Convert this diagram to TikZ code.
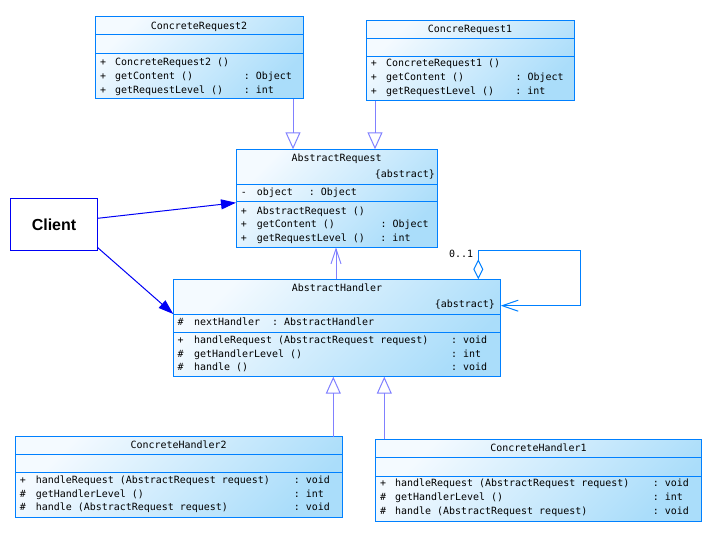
\documentclass[tikz,border=0pt]{standalone}
\usepackage{fontspec}
\setmonofont{DejaVu Sans Mono}
\newfontfamily\clientfont{Liberation Sans}
\usetikzlibrary{arrows.meta}
\definecolor{clsblue}{RGB}{0,128,255}
\definecolor{clslight}{RGB}{244,250,255}
\definecolor{clsdark}{RGB}{170,221,250}
\definecolor{genline}{RGB}{128,128,255}
\definecolor{clientblue}{RGB}{0,0,245}
\tikzset{
  cls/.style={draw=clsblue, line width=1pt, top color=clslight, bottom color=clsdark,
    shading angle=45, inner sep=0pt, outer sep=0pt, anchor=north west},
  sepline/.style={draw=clsblue, line width=1pt},
  mono/.style={font=\ttfamily\fontsize{9.97}{12}\selectfont, inner sep=0pt, anchor=base west},
  title/.style={mono, anchor=base},
  clientbox/.style={draw=clientblue, line width=1pt, fill=white, inner sep=0pt, outer sep=0pt,
    anchor=north west, font=\clientfont\bfseries\fontsize{16}{18}\selectfont},
  gen/.style={draw=genline, line width=1pt, -{Triangle[open, length=17pt, width=15pt]}},
  dep/.style={draw=genline, line width=1pt, -{Straight Barb[length=15pt, width=10pt]}},
  assoc/.style={draw=clsblue, line width=1pt,
    {Diamond[open, length=20pt, width=10pt]}-{Straight Barb[length=16pt, width=11pt]}},
  clientarrow/.style={draw=clientblue, line width=1pt, -{Triangle[length=15pt, width=10pt]}},
}
\newcommand\umlsep[2]{\draw[sepline] ([yshift=-#2pt]#1.north west) -- ([yshift=-#2pt]#1.north east);}
\newcommand\umlrow[8]{\node[mono] (#1) at (#2,#3) {\makebox[#4pt][l]{#5}\makebox[#6pt][l]{#7}#8};}
\begin{document}
\begin{tikzpicture}[x=1pt,y=-1pt]
\useasboundingbox (0,0) rectangle (717,534);
% ---------- boxes
\node[cls, minimum width=208pt, minimum height=82pt] (cr2) at (95,17) {};
\node[cls, minimum width=208pt, minimum height=80pt] (cr1) at (366,21) {};
\node[cls, minimum width=201.3pt, minimum height=98pt] (ar) at (236,149.3) {};
\node[cls, minimum width=327.4pt, minimum height=97.4pt] (ah) at (173.3,279.3) {};
\node[cls, minimum width=327.3pt, minimum height=80.6pt] (ch2) at (15,436.7) {};
\node[cls, minimum width=326.4pt, minimum height=82.4pt] (ch1) at (375.3,439.3) {};
\node[clientbox, minimum width=86.6pt, minimum height=52.7pt] (client) at (10.7,198.3) {Client};
% ---------- separators
\umlsep{cr2}{18}\umlsep{cr2}{37}
\umlsep{cr1}{17.7}\umlsep{cr1}{35.7}
\umlsep{ar}{35.7}\umlsep{ar}{52.4}
\umlsep{ah}{35.7}\umlsep{ah}{53}
\umlsep{ch2}{17.6}\umlsep{ch2}{35.6}
\umlsep{ch1}{18}\umlsep{ch1}{36.7}
% ---------- ConcreteRequest2
\node[title] (cr2t) at (199,30) {ConcreteRequest2};
\umlrow{cr2a}{100}{66}{15}{+}{128.7}{ConcreteRequest2 ()}{}
\umlrow{cr2b}{100}{79.5}{15}{+}{128.7}{getContent ()}{: Object}
\umlrow{cr2c}{100}{93.2}{15}{+}{128.7}{getRequestLevel ()}{: int}
% ---------- ConcreteRequest1
\node[title] (cr1t) at (470,32.5) {ConcreRequest1};
\umlrow{cr1a}{370.7}{67}{15.3}{+}{129.3}{ConcreteRequest1 ()}{}
\umlrow{cr1b}{370.7}{80.7}{15.3}{+}{129.3}{getContent ()}{: Object}
\umlrow{cr1c}{370.7}{94.4}{15.3}{+}{129.3}{getRequestLevel ()}{: int}
% ---------- AbstractRequest
\node[title] (art) at (336.7,162) {AbstractRequest};
\node[mono, anchor=base east] (ara) at (435,178) {\{abstract\}};
\umlrow{arf}{240.7}{196}{16}{-}{52}{object}{: Object}
\umlrow{arm1}{240.7}{214.2}{16}{+}{123.6}{AbstractRequest ()}{}
\umlrow{arm2}{240.7}{227.9}{16}{+}{123.6}{getContent ()}{: Object}
\umlrow{arm3}{240.7}{241.6}{16}{+}{123.6}{getRequestLevel ()}{: int}
% ---------- AbstractHandler
\node[title] (aht) at (337,292) {AbstractHandler};
\node[mono, anchor=base east] (aha) at (495,307.7) {\{abstract\}};
\umlrow{ahf}{177.3}{326}{16.7}{\#}{78}{nextHandler}{: AbstractHandler}
\umlrow{ahm1}{177.3}{343.5}{16.7}{+}{257}{handleRequest (AbstractRequest request)}{: void}
\umlrow{ahm2}{177.3}{357.2}{16.7}{\#}{257}{getHandlerLevel ()}{: int}
\umlrow{ahm3}{177.3}{370.9}{16.7}{\#}{257}{handle ()}{: void}
% ---------- ConcreteHandler2
\node[title] (ch2t) at (178.7,448) {ConcreteHandler2};
\umlrow{ch2a}{19.7}{483.5}{16}{+}{258}{handleRequest (AbstractRequest request)}{: void}
\umlrow{ch2b}{19.7}{497.2}{16}{\#}{258}{getHandlerLevel ()}{: int}
\umlrow{ch2c}{19.7}{510.9}{16}{\#}{258}{handle (AbstractRequest request)}{: void}
% ---------- ConcreteHandler1
\node[title] (ch1t) at (538.5,451) {ConcreteHandler1};
\umlrow{ch1a}{380}{486.8}{15}{+}{257.7}{handleRequest (AbstractRequest request)}{: void}
\umlrow{ch1b}{380}{500.5}{15}{\#}{257.7}{getHandlerLevel ()}{: int}
\umlrow{ch1c}{380}{514.2}{15}{\#}{257.7}{handle (AbstractRequest request)}{: void}
% ---------- connectors
\draw[gen] ([xshift=-10pt]cr2.south east) -- ([xshift=-10pt]cr2.south east |- ar.north);
\draw[gen] ([xshift=9pt]cr1.south west) -- ([xshift=9pt]cr1.south west |- ar.north);
\draw[gen] ([xshift=-9pt]ch2.north east) -- ([xshift=-9pt]ch2.north east |- ah.south);
\draw[gen] ([xshift=9pt]ch1.north west) -- ([xshift=9pt]ch1.north west |- ah.south);
\draw[dep] ([xshift=-1pt]ah.north) -- ([xshift=-1pt]ah.north |- ar.south);
\coordinate (loopA) at ([xshift=-22.4pt]ah.north east);
\coordinate (loopB) at ([yshift=22.3pt]ah.east);
\draw[assoc] (loopA) -- ++(0pt,28.6pt) -| ([xshift=79.3pt]loopB) -- (loopB);
\node[mono] (mult) at (449,257.5) {0..1};
\draw[clientarrow] ([yshift=6.3pt]client.east) -- ([yshift=-4.4pt]ar.west);
\draw[clientarrow] ([yshift=3.7pt]client.south east) -- ([yshift=-34.7pt]ah.north west);
\end{tikzpicture}
\end{document}
